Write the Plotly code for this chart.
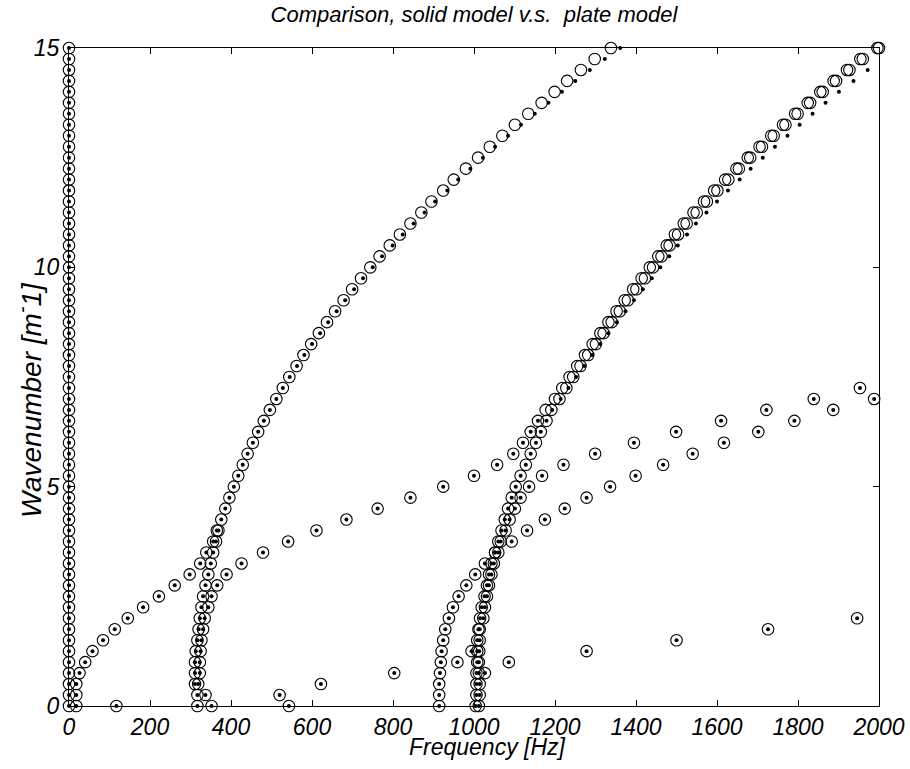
import plotly.graph_objects as go

# ---------------- data ----------------
wavenumber = [0.0, 0.25, 0.5, 0.75, 1.0, 1.25, 1.5, 1.75, 2.0, 2.25, 2.5, 2.75,
              3.0, 3.25, 3.5, 3.75, 4.0, 4.25, 4.5, 4.75, 5.0, 5.25, 5.5, 5.75,
              6.0, 6.25, 6.5, 6.75, 7.0, 7.25, 7.5, 7.75, 8.0, 8.25, 8.5, 8.75,
              9.0, 9.25, 9.5, 9.75, 10.0, 10.25, 10.5, 10.75, 11.0, 11.25, 11.5,
              11.75, 12.0, 12.25, 12.5, 12.75, 13.0, 13.25, 13.5, 13.75, 14.0,
              14.25, 14.5, 14.75, 15.0]

# rigid-body branch (f = 0 at every wavenumber), k = 0 .. 15
f_rigid = [0, 0, 0, 0, 0, 0, 0, 0, 0, 0, 0, 0, 0, 0, 0, 0, 0, 0, 0, 0, 0, 0, 0, 0,
           0, 0, 0, 0, 0, 0, 0, 0, 0, 0, 0, 0, 0, 0, 0, 0, 0, 0, 0, 0, 0, 0, 0, 0,
           0, 0, 0, 0, 0, 0, 0, 0, 0, 0, 0, 0, 0]

# low branch from the origin, k = 0 .. 4.0
f_low = [18, 18, 18, 26, 40, 58, 84, 113, 145, 183, 222, 261, 298, 324, 339, 356, 365]

# branch starting near 317 Hz, k = 0 .. 15 (solid model)
f_p1_solid = [317, 317, 311, 311, 311, 313, 317, 320, 323, 327, 331, 337, 344, 350,
              356, 363, 369, 376, 386, 396, 407, 418, 429, 441, 454, 467, 481, 496,
              512, 528, 544, 562, 579, 598, 617, 637, 657, 678, 699, 721, 744, 767,
              792, 817, 843, 870, 895, 924, 950, 980, 1010, 1039, 1070, 1101, 1134,
              1167, 1199, 1230, 1264, 1298, 1338]
# same branch, plate model
f_p1_plate = [317, 317, 311, 311, 311, 313, 317, 320, 323, 327, 331, 337, 344, 350,
              356, 363, 369, 376, 386, 396, 407, 418, 429, 441, 454, 467, 481, 496,
              512, 528, 545, 563, 581, 600, 620, 640, 661, 682, 704, 726, 750, 773,
              799, 824, 851, 878, 904, 934, 961, 991, 1022, 1052, 1084, 1116, 1150,
              1184, 1217, 1250, 1286, 1323, 1361]

# second branch near 320 Hz that veers upward, k = 0 .. 15 (solid model)
f_p2_solid = [352, 337, 319, 323, 323, 325, 327, 331, 335, 344, 352, 366, 389, 426,
              479, 541, 611, 685, 762, 843, 924, 1000, 1057, 1097, 1121, 1140, 1158,
              1177, 1200, 1218, 1236, 1255, 1274, 1293, 1312, 1332, 1352, 1372, 1393,
              1414, 1434, 1455, 1476, 1496, 1518, 1542, 1568, 1593, 1620, 1648, 1676,
              1705, 1734, 1763, 1793, 1824, 1855, 1888, 1921, 1954, 1996]

# branch starting near 1005 Hz, k = 0 .. 15 (solid model)
f_c1_solid = [1004, 1006, 1006, 1006, 1008, 1008, 1008, 1011, 1015, 1019, 1026, 1032,
              1037, 1043, 1052, 1060, 1068, 1076, 1084, 1093, 1103, 1115, 1128, 1140,
              1153, 1165, 1179, 1191, 1211, 1228, 1245, 1263, 1282, 1301, 1320, 1340,
              1360, 1380, 1401, 1422, 1442, 1463, 1483, 1504, 1525, 1550, 1575, 1601,
              1628, 1654, 1682, 1711, 1740, 1769, 1799, 1830, 1861, 1894, 1927, 1960,
              2000]

# plate model on the upper part of the two merged branches, k = 6.75 .. 14.5
k_upper_plate = [6.75, 7.0, 7.25, 7.5, 7.75, 8.0, 8.25, 8.5, 8.75, 9.0, 9.25, 9.5,
                 9.75, 10.0, 10.25, 10.5, 10.75, 11.0, 11.25, 11.5, 11.75, 12.0,
                 12.25, 12.5, 12.75, 13.0, 13.25, 13.5, 13.75, 14.0, 14.25, 14.5]
f_upper_plate = [1193, 1214, 1233, 1252, 1272, 1292, 1312, 1332, 1353, 1374, 1395,
                 1417, 1439, 1460, 1482, 1503, 1526, 1548, 1574, 1600, 1627, 1656,
                 1683, 1713, 1743, 1774, 1804, 1836, 1868, 1901, 1937, 1972]

# branch near 1012 Hz that veers off steeply, k = 0 .. 7.25
f_c2 = [1012, 1014, 1014, 1012, 1012, 1013, 1014, 1014, 1023, 1027, 1032, 1037, 1043,
        1049, 1060, 1066, 1078, 1088, 1101, 1115, 1136, 1168, 1221, 1299, 1395, 1499,
        1610, 1722, 1839, 1953]

# branch starting at 914 Hz, k = 0 .. 7.0
f_b = [914, 914, 914, 916, 918, 920, 924, 929, 938, 948, 962, 981, 1003, 1027, 1052,
       1093, 1131, 1175, 1224, 1278, 1336, 1399, 1467, 1540, 1617, 1702, 1791, 1887,
       1988]

# isolated points near the bottom
k_extra = [0.0, 0.0, 0.25, 0.5, 0.75, 0.75, 1.0, 1.0, 1.25, 1.25, 1.5, 1.75, 2.0]
f_extra = [117, 543, 520, 622, 803, 1027, 959, 1086, 994, 1278, 1500, 1726, 1946]

x_ticks = [0, 200, 400, 600, 800, 1000, 1200, 1400, 1600, 1800, 2000]
y_ticks = [0, 5, 10, 15]

# ---------------- assemble ----------------
def kk(freqs):
    return wavenumber[:len(freqs)]

solid_f, solid_k = [], []
for fl in (f_rigid, f_low, f_p1_solid, f_p2_solid, f_c1_solid, f_c2, f_b):
    solid_f += fl
    solid_k += kk(fl)
solid_f += f_extra
solid_k += k_extra

n_low = 27  # plate coincides with solid for p2/c1 up to k = 6.5
plate_f, plate_k = [], []
for fl in (f_rigid, f_low, f_p1_plate, f_p2_solid[:n_low], f_c1_solid[:n_low], f_c2, f_b):
    plate_f += fl
    plate_k += kk(fl)
plate_f += f_upper_plate + f_extra
plate_k += k_upper_plate + k_extra

FONT = "Liberation Sans, Arial, sans-serif"

fig = go.Figure()
fig.add_trace(go.Scatter(x=solid_f, y=solid_k, mode="markers", cliponaxis=False,
                         marker=dict(symbol="circle-open", size=11.5,
                                     color="black", line=dict(width=1.1, color="black")),
                         showlegend=False, hoverinfo="skip"))
fig.add_trace(go.Scatter(x=plate_f, y=plate_k, mode="markers", cliponaxis=False,
                         marker=dict(symbol="circle", size=4, color="black",
                                     line=dict(width=0)),
                         showlegend=False, hoverinfo="skip"))

axis_common = dict(showline=True, linecolor="black", linewidth=1.2, mirror="ticks",
                   ticks="inside", ticklen=6, tickcolor="black", tickwidth=1,
                   showgrid=False, zeroline=False, automargin=False,
                   tickfont=dict(family=FONT, size=23, color="black", style="italic"))

fig.update_xaxes(range=[0, 2000], tickvals=x_ticks, ticktext=[str(v) for v in x_ticks],
                 ticklabelstandoff=0, **axis_common)
fig.update_yaxes(range=[0, 15], tickvals=y_ticks, ticktext=[str(v) for v in y_ticks],
                 ticklabelstandoff=4, **axis_common)

fig.update_layout(
    width=910, height=769,
    margin=dict(l=69, r=31, t=48, b=63, pad=0),
    paper_bgcolor="white", plot_bgcolor="white",
    title=dict(text="Comparison, solid model v.s.  plate model",
               x=0.5, xref="paper", y=1 - 14 / 769, yref="container",
               xanchor="center", yanchor="middle",
               font=dict(family=FONT, size=22, color="black", style="italic")),
    annotations=[
        dict(text="Frequency [Hz]", xref="paper", yref="paper", x=0.517,
             y=-(747 - 706) / 658,
             xanchor="center", yanchor="middle", showarrow=False,
             font=dict(family=FONT, size=23, color="black", style="italic")),
        dict(text="Wavenumber [m<sup>-</sup>1]", xref="paper", yref="paper",
             x=-(69 - 29) / 810, y=(706 - 400) / 658, xanchor="center",
             yanchor="middle", textangle=-90, showarrow=False,
             font=dict(family=FONT, size=28, color="black", style="italic")),
    ],
)

fig.write_html("out.html")
